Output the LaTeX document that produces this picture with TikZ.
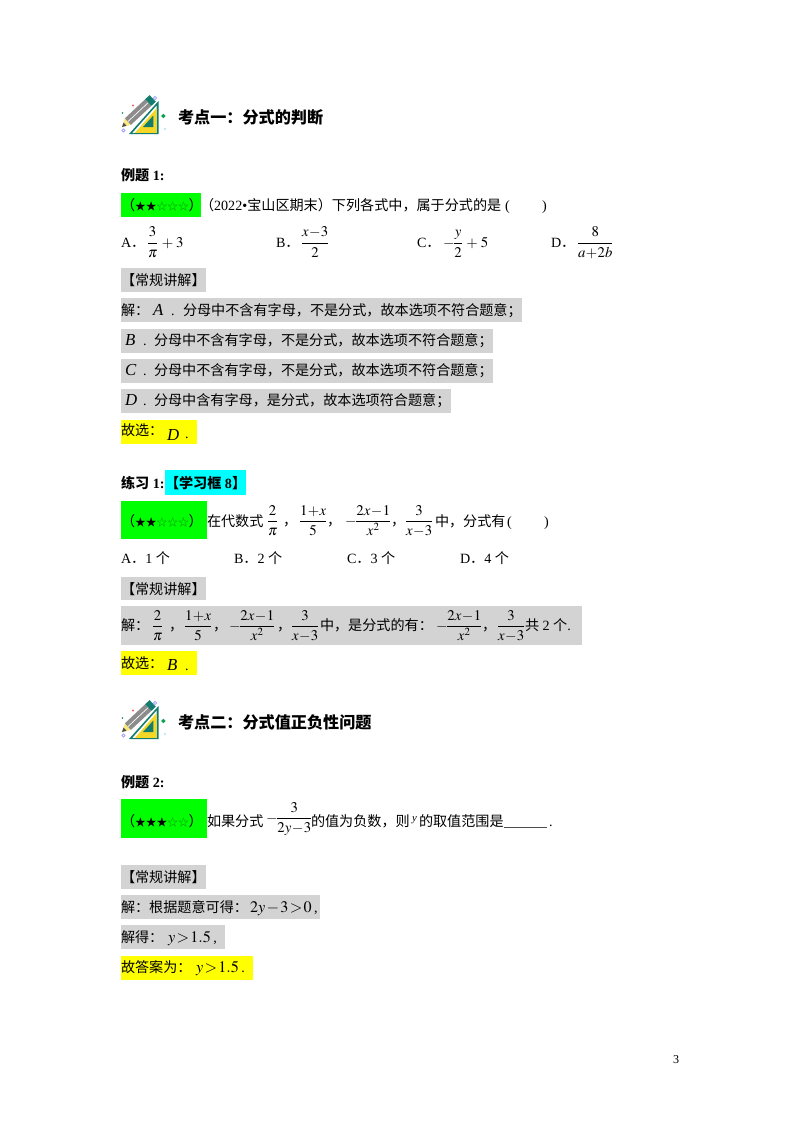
\documentclass[tikz,border=0pt]{standalone}
\usepackage{mathptmx}
\usepackage[no-math]{fontspec}
\setmainfont{Liberation Serif}
\newfontfamily\cjk{Noto Sans CJK SC}
\newfontfamily\starfont[Scale=0.76]{Noto Sans CJK SC}
\definecolor{pagegreen}{RGB}{0,255,0}
\definecolor{pagecyan}{RGB}{0,255,255}
\definecolor{pageyellow}{RGB}{255,255,0}
\definecolor{pagegray}{RGB}{211,211,211}
\definecolor{iconteal}{RGB}{18,125,110}
\definecolor{iconyellow}{RGB}{245,215,40}
\newcommand\zh[1]{{\cjk #1}}
\newcommand\mth[1]{{\fontsize{12pt}{14pt}\selectfont\medmuskip=1.5mu\thickmuskip=1.5mu\(#1\)}}
\newcommand\mthf[1]{{\fontsize{11pt}{13pt}\selectfont\medmuskip=0.5mu\thickmuskip=0.5mu\nulldelimiterspace=0pt\(\displaystyle #1\)}}
\newcommand\dfr[2]{\frac{\rule[-1.6pt]{0pt}{0pt}#1}{\rule{0pt}{8.8pt}#2}}
\newcommand\starsB{\zh{（}{\starfont ★★\textcolor{green!55!black}{☆☆☆}}\zh{）}}
\newcommand\starsC{\zh{（}{\starfont ★★★\textcolor{green!55!black}{☆☆}}\zh{）}}
\def\hlbar[#1](#2,#3)(#4,#5){\fill[#1] (#2,#3) rectangle (#4,#5);}
\def\drawicon(#1,#2){
	\begin{scope}[shift={(#1,#2)}]
		% pencil
		\fill[iconyellow!60!white] (7,35) -- (9.9,26.3) -- (15.9,32.9) -- cycle;
		\fill[black!70] (7,35) -- (8.5,30.5) -- (11.5,33.8) -- cycle;
		\fill[black!45] (9.9,26.3) -- (30.2,7.2) -- (36.4,13.8) -- (15.9,32.9) -- cycle;
		\draw[white,line width=0.5pt] (12.9,29.6) -- (33.3,10.5);
		\fill[iconteal] (30.2,7.2) -- (34.6,3.1) -- (40.8,9.7) -- (36.4,13.8) -- cycle;
		% set square
		\fill[iconteal] (43.5,9) -- (43.5,42) -- (14,42) -- cycle;
		\fill[white] (41.7,13.5) -- (41.7,40.8) -- (17.5,40.8) -- cycle;
		\fill[iconyellow] (41.7,16) -- (41.7,40.8) -- (20,40.8) -- cycle;
		\fill[iconteal] (28,35) -- (38.3,23.5) -- (38.3,35) -- cycle;
		% dots
		\fill[red!65!white] (18,13.5) circle (1.2);
		\fill[iconteal] (7.5,21) circle (0.9);
		\draw[blue!40!white,line width=0.5pt] (40,6) circle (1.7);
		\draw[iconteal!70!green,line width=1pt] (48.3,24) circle (1.3);
		\fill[cyan!25!white] (50,37) circle (1.3);
		\draw[blue!40!white,line width=0.5pt] (8.5,38.5) circle (1.6);
	\end{scope}
}

\tikzset{
	txt/.style={anchor=base west,inner sep=0pt,outer sep=0pt,font=\fontsize{10.5pt}{12pt}\selectfont},
	txtbold/.style={txt,font=\fontsize{10.5pt}{12pt}\selectfont\bfseries},
	headtxt/.style={txt,font=\fontsize{12pt}{14pt}\selectfont\bfseries},
	bigvar/.style={txt,font=\fontsize{12.5pt}{14pt}\selectfont},
	greybar/.style={fill=pagegray},
	yellowbar/.style={fill=pageyellow},
	greenbar/.style={fill=pagegreen},
	cyanbar/.style={fill=pagecyan}
}

\begin{document}
\begin{tikzpicture}[x=0.744pt,y=-0.744pt]
	\useasboundingbox (0,0) rectangle (800,1132);
	\fill[white] (0,0) rectangle (800,1132);

	%%%%% first topic %%%%%
	\drawicon(115,92)
	\node[headtxt] (headA) at (178,123) {\zh{考点一：分式的判断}};
	\node[txtbold] (exA) at (121,180) {\zh{例题} 1:};

	\hlbar[greenbar](121,192.5)(200.5,216.5)
	\node[txt] (rateA) at (121,210) {\starsB};
	\node[txt] (stemA) at (200,210) {\zh{（}2022•\zh{宝山区期末）下列各式中，属于分式的是}};
	\node[txt] (stemAl) at (505,210) {(};
	\node[txt] (stemAr) at (542,210) {)};

	\node[txt] (optAa) at (121,247) {A\zh{．}};
	\node[txt] (optAb) at (148,247) {\mthf{\dfr{3}{\pi}\mskip5mu+\mskip3mu3}};
	\node[txt] (optBa) at (276,247) {B\zh{．}};
	\node[txt] (optBb) at (302,247) {\mthf{\dfr{x-3}{2}}};
	\node[txt] (optCa) at (417,247) {C\zh{．}};
	\node[txt] (optCb) at (443,247) {\mthf{-\dfr{y}{2}\mskip5mu+\mskip3mu5}};
	\node[txt] (optDa) at (551,247) {D\zh{．}};
	\node[txt] (optDb) at (578,247) {\mthf{\dfr{8}{a+2b}}};

	\hlbar[greybar](121,268)(206,292)
	\node[txt] (tagA) at (121,285) {\zh{【常规讲解】}};

	\hlbar[greybar](121,298)(522,322)
	\node[txt] (solA) at (121,315) {\zh{解：}};
	\node[bigvar] (solAv) at (153,315) {\textit{A}};
	\node[txt] (solAd) at (171,315) {.};
	\node[txt] (solAt) at (183,315) {\zh{分母中不含有字母，不是分式，故本选项不符合题意；}};

	\hlbar[greybar](121,328.5)(493,352.5)
	\node[bigvar] (solBv) at (125,345) {\textit{B}};
	\node[txt] (solBd) at (143,345) {.};
	\node[txt] (solBt) at (154,345) {\zh{分母中不含有字母，不是分式，故本选项不符合题意；}};

	\hlbar[greybar](121,359)(493,383)
	\node[bigvar] (solCv) at (125,375) {\textit{C}};
	\node[txt] (solCd) at (143,375) {.};
	\node[txt] (solCt) at (154,375) {\zh{分母中不含有字母，不是分式，故本选项不符合题意；}};

	\hlbar[greybar](121,389)(451,413)
	\node[bigvar] (solDv) at (125,405) {\textit{D}};
	\node[txt] (solDd) at (143,405) {.};
	\node[txt] (solDt) at (154,405) {\zh{分母中含有字母，是分式，故本选项符合题意；}};

	\hlbar[yellowbar](121,419.5)(197,443.5)
	\node[txt] (ansA) at (121,435) {\zh{故选：}};
	\node[bigvar] (ansAv) at (167,440) {\textit{D}};
	\node[txt] (ansAd) at (185,438) {.};

	%%%%% practice %%%%%
	\hlbar[cyanbar](164.5,470)(246,494.5)
	\node[txtbold] (prac) at (121,488) {\zh{练习} 1:};
	\node[txtbold] (pracbox) at (165,488) {\zh{【学习框} 8\zh{】}};

	\hlbar[greenbar](121,501)(207,539)
	\node[txt] (rateB) at (121,526) {\starsB};
	\node[txt] (stemB) at (207,526) {\zh{在代数式}};
	\node[txt] (fracBa) at (268,525) {\mthf{\dfr{2}{\pi}}};
	\node[txt] (commaBa) at (283,525) {\zh{，}};
	\node[txt] (fracBb) at (300,525) {\mthf{\dfr{1+x}{5}}};
	\node[txt] (commaBb) at (327,525) {\zh{，}};
	\node[txt] (fracBc) at (345,525) {\mthf{-\dfr{2x-1}{x^2}}};
	\node[txt] (commaBc) at (391,525) {\zh{，}};
	\node[txt] (fracBd) at (406,525) {\mthf{\dfr{3}{x-3}}};
	\node[txt] (stemBb) at (435,526) {\zh{中，分式有}};
	\node[txt] (stemBl) at (507,526) {(};
	\node[txt] (stemBr) at (544,526) {)};

	\node[txt] (pracA) at (121,563) {A\zh{．}1 \zh{个}};
	\node[txt] (pracB) at (234,563) {B\zh{．}2 \zh{个}};
	\node[txt] (pracC) at (347,563) {C\zh{．}3 \zh{个}};
	\node[txt] (pracD) at (460,563) {D\zh{．}4 \zh{个}};

	\hlbar[greybar](121,577)(206,600)
	\node[txt] (tagB) at (121,594) {\zh{【常规讲解】}};

	\hlbar[greybar](121,606)(582,645)
	\node[txt] (solE) at (121,630) {\zh{解：}};
	\node[txt] (solEa) at (153,630) {\mthf{\dfr{2}{\pi}}};
	\node[txt] (solEb) at (169,630) {\zh{，}};
	\node[txt] (solEc) at (185,630) {\mthf{\dfr{1+x}{5}}};
	\node[txt] (solEd) at (213,630) {\zh{，}};
	\node[txt] (solEe) at (229,630) {\mthf{-\dfr{2x-1}{x^2}}};
	\node[txt] (solEf) at (277,630) {\zh{，}};
	\node[txt] (solEg) at (292,630) {\mthf{\dfr{3}{x-3}}};
	\node[txt] (solEh) at (320,630) {\zh{中，是分式的有：}};
	\node[txt] (solEi) at (436,630) {\mthf{-\dfr{2x-1}{x^2}}};
	\node[txt] (solEj) at (482,630) {\zh{，}};
	\node[txt] (solEk) at (498,630) {\mthf{\dfr{3}{x-3}}};
	\node[txt] (solEl) at (525,630) {\zh{共} 2 \zh{个}.};

	\hlbar[yellowbar](121,651)(197,675)
	\node[txt] (ansB) at (121,668) {\zh{故选：}};
	\node[bigvar] (ansBv) at (167,670) {\textit{B}};
	\node[txt] (ansBd) at (185,670) {.};

	%%%%% second topic %%%%%
	\drawicon(115,697)
	\node[headtxt] (headB) at (178,728) {\zh{考点二：分式值正负性问题}};
	\node[txtbold] (exB) at (121,787) {\zh{例题} 2:};

	\hlbar[greenbar](121,799)(207,838)
	\node[txt] (rateC) at (121,826) {\starsC};
	\node[txt] (stemC) at (207,826) {\zh{如果分式}};
	\node[txt] (fracC) at (266,822) {\mthf{-\dfr{3}{2y-3}}};
	\node[txt] (stemCa) at (311,826) {\zh{的值为负数，则}};
	\node[txt] (stemCy) at (412,821) {\footnotesize\textit{y}};
	\node[txt] (stemCb) at (419,826) {\zh{的取值范围是}\textcolor{black!70}{\rule[-0.7pt]{32pt}{0.3pt}}\,.};

	\hlbar[greybar](121,865)(206,889)
	\node[txt] (tagC) at (121,882) {\zh{【常规讲解】}};

	\hlbar[greybar](121,895)(320,919)
	\node[txt] (solF) at (121,912) {\zh{解：根据题意可得：}};
	\node[txt] (solFm) at (250,912) {\mth{2y-3>0}\,,};

	\hlbar[greybar](121,925)(225,949)
	\node[txt] (solG) at (121,942) {\zh{解得：}};
	\node[txt] (solGm) at (168,942) {\mth{y>1.5}\,,};

	\hlbar[yellowbar](121,956)(253,980)
	\node[txt] (ansC) at (121,972) {\zh{故答案为：}};
	\node[txt] (ansCm) at (196,972) {\mth{y>1.5}\,.};

	\node[txt,font=\fontsize{9pt}{10pt}\selectfont] (pageno) at (673,1063) {3};
\end{tikzpicture}
\end{document}
